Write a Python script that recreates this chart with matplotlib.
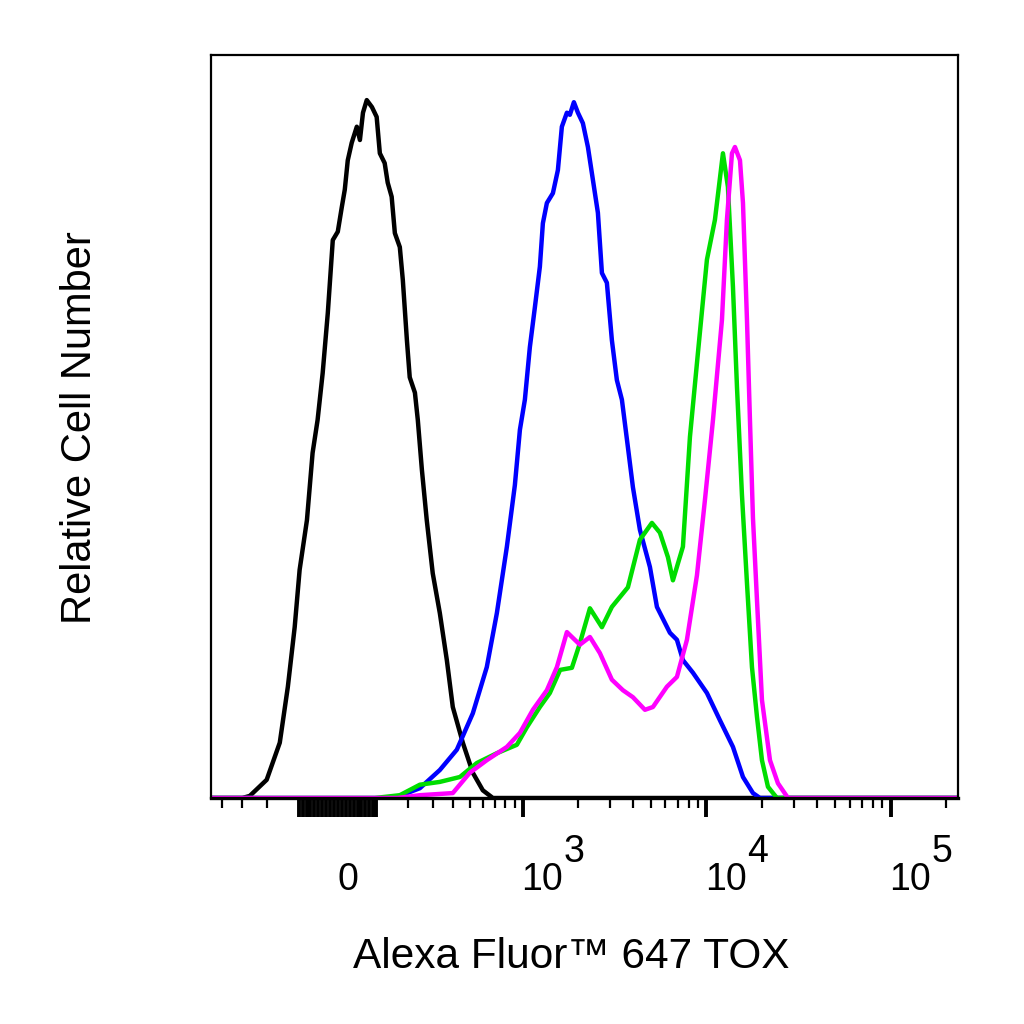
import numpy as np
import matplotlib
matplotlib.use('Agg')
import matplotlib.pyplot as plt
from matplotlib.ticker import FixedLocator, NullFormatter

#-----------------------------------------------------------------------------#
# data (fluorescence intensity, relative count in % of max)

black_x = [-460, -299, -267, -202, -158, -133, -113, -99, -79, -64, -51,
           -38, -25, -12.5, 0, 10, 17.5, 25, 35, 48, 56,
           64, 74, 88, 101, 110, 124, 133, 145, 155, 171,
           181, 195, 205, 224, 235, 251, 271, 297, 330, 365,
           397, 456, 522, 596, 680, 232000]
black_y = [0, 0, 0.3, 2.6, 7.9, 15.9, 24.4, 32.6, 39.7, 49.3, 54,
           60.7, 69.3, 79.7, 80.9, 84.4, 86.9, 91.1, 93.6, 95.9, 94,
           97.9, 99.7, 98.7, 97.3, 92.1, 90.7, 87.9, 85.9, 80.7, 78.7,
           74, 65.4, 60.1, 57.9, 54, 46.9, 39.7, 32.1, 26.4, 19.7,
           13, 7.9, 3.6, 1.1, 0, 0]

blue_x = [-460, 124, 171, 243, 330, 420, 522, 628, 716, 815, 903,
          963, 1026, 1093, 1165, 1241, 1289, 1356, 1463, 1558, 1638,
          1745, 1812, 1905, 2004, 2133, 2272, 2419, 2575, 2708, 2882,
          3068, 3266, 3478, 3750, 3992, 4358, 4938, 5390, 6342, 6922,
          7460, 8454, 10070, 11850, 13940, 15800, 17900, 19540, 232000]
blue_y = [0, 0, 0.3, 1.4, 4, 6.9, 12.1, 18.7, 26.4, 35.9, 44.7,
          52.6, 56.9, 64.4, 70.1, 75.9, 82.1, 85, 86.4, 89.7, 95.9,
          97.9, 97.6, 99.4, 97.9, 96.4, 93, 88.3, 83.6, 75, 73.6,
          65.4, 59.7, 56.9, 50.1, 44.4, 38.3, 33, 27.3, 23.6, 22.6,
          19.7, 17.9, 15, 11.1, 7.3, 3, 0.7, 0, 0]

green_x = [-460, 96, 171, 243, 330, 438, 551, 716, 926, 1052, 1241,
           1408, 1602, 1858, 2054, 2330, 2708, 3068, 3392, 3750, 4358,
           5062, 5596, 6186, 6584, 7460, 8145, 9000, 10070, 11130, 12300, 13090,
           13940, 14660, 15600, 16610, 17680, 18820, 20030, 21590, 24160, 232000]
green_y = [0, 0, 0.4, 1.9, 2.3, 3, 5, 6.4, 7.6, 10.1, 13,
           15, 18.3, 18.6, 22.1, 27.1, 24.4, 27.3, 28.7, 30.1, 36.9,
           39.3, 37.9, 34.4, 31.1, 35.9, 51.6, 63.6, 76.9, 82.6, 92.1, 87.3,
           73, 58.7, 43.3, 30.7, 18.7, 11.6, 5.4, 1.6, 0, 0]

magenta_x = [-460, 164, 243, 397, 501, 628, 815, 963, 1136, 1356, 1539,
             1745, 2054, 2330, 2640, 3068, 3522, 3992, 4640, 5128, 6108,
             6922, 7844, 8888, 9825, 10860, 12150, 12930, 13770, 14290, 15220,
             15800, 16610, 17240, 17900, 18820, 20030, 22140, 24460, 27730, 232000]
magenta_y = [0, 0, 0.4, 0.7, 3.6, 5.4, 7.3, 9.3, 12.6, 15.4, 18.7,
             23.7, 21.9, 23, 20.7, 16.9, 15.4, 14.4, 12.6, 13, 15.9,
             17.3, 22.6, 31.8, 42.6, 54, 68.3, 82.6, 92.1, 93, 91.1,
             85, 68.3, 54, 40, 28.3, 14, 5.4, 2.1, 0, 0]

major_ticks = [-100, -90, -80, -70, -60, -50, -40, -30, -20, -10, 0,
               10, 20, 30, 40, 50, 60, 70, 80, 90, 100, 1e3, 1e4, 1e5]
minor_ticks = [-400, -300, -200,
               200, 300, 400, 500, 600, 700, 800, 900,
               2e3, 3e3, 4e3, 5e3, 6e3, 7e3, 8e3, 9e3,
               2e4, 3e4, 4e4, 5e4, 6e4, 7e4, 8e4, 9e4, 2e5]
decades = [3, 4, 5]

#-----------------------------------------------------------------------------#
# biexponential-like axis

C = 200.0

def forward(x):
    return np.arcsinh(np.asarray(x) / C)

def inverse(y):
    return C * np.sinh(np.asarray(y))

#-----------------------------------------------------------------------------#
# plot

plt.rcParams['font.family'] = ['Liberation Sans', 'DejaVu Sans']

fig = plt.figure(figsize=(10.24, 10.24), dpi=100)
ax = fig.add_axes([211 / 1024, 1 - 798 / 1024, 747 / 1024, 743 / 1024])
ax.set_xscale('function', functions=(forward, inverse))

style = dict(lw=3.2, solid_joinstyle='round', solid_capstyle='round')
ax.plot(black_x, black_y, color='#000000', **style)
ax.plot(blue_x, blue_y, color='#0000ff', **style)
ax.plot(green_x, green_y, color='#00dd00', **style)
ax.plot(magenta_x, magenta_y, color='#ff00ff', **style)

ax.set_xlim(-467, 232000)
ax.set_ylim(0, 743 / 7)

for s in ax.spines.values():
    s.set_linewidth(1.6)
ax.spines['bottom'].set_linewidth(2.4)

ax.set_yticks([])
ax.xaxis.set_major_locator(FixedLocator(major_ticks))
ax.xaxis.set_minor_locator(FixedLocator(minor_ticks))
ax.xaxis.set_major_formatter(NullFormatter())
ax.xaxis.set_minor_formatter(NullFormatter())
ax.tick_params(axis='x', which='major', length=14, width=2.8, direction='out')
ax.tick_params(axis='x', which='minor', length=7, width=1.6, direction='out')

# tick labels: 0, 10^3, 10^4, 10^5 (full-size exponent)
lab = dict(xycoords=('data', 'axes fraction'), textcoords='offset points',
           ha='left', va='top', fontsize=27)
ax.annotate('0', xy=(0, 0), xytext=(0, -46), **lab)
for e in decades:
    ax.annotate('10', xy=(10 ** e, 0), xytext=(-1, -46), **lab)
    ax.annotate(str(e), xy=(10 ** e, 0), xytext=(29.5, -26), **lab)

fig.text(571 / 1024, 1 - 957 / 1024, 'Alexa Fluor\u2122 647 TOX',
         ha='center', va='center', fontsize=30.5)
fig.text(80 / 1024, 1 - 428 / 1024, 'Relative Cell Number',
         ha='center', va='center', rotation=90, fontsize=30)

fig.savefig('out.png', dpi=100)
